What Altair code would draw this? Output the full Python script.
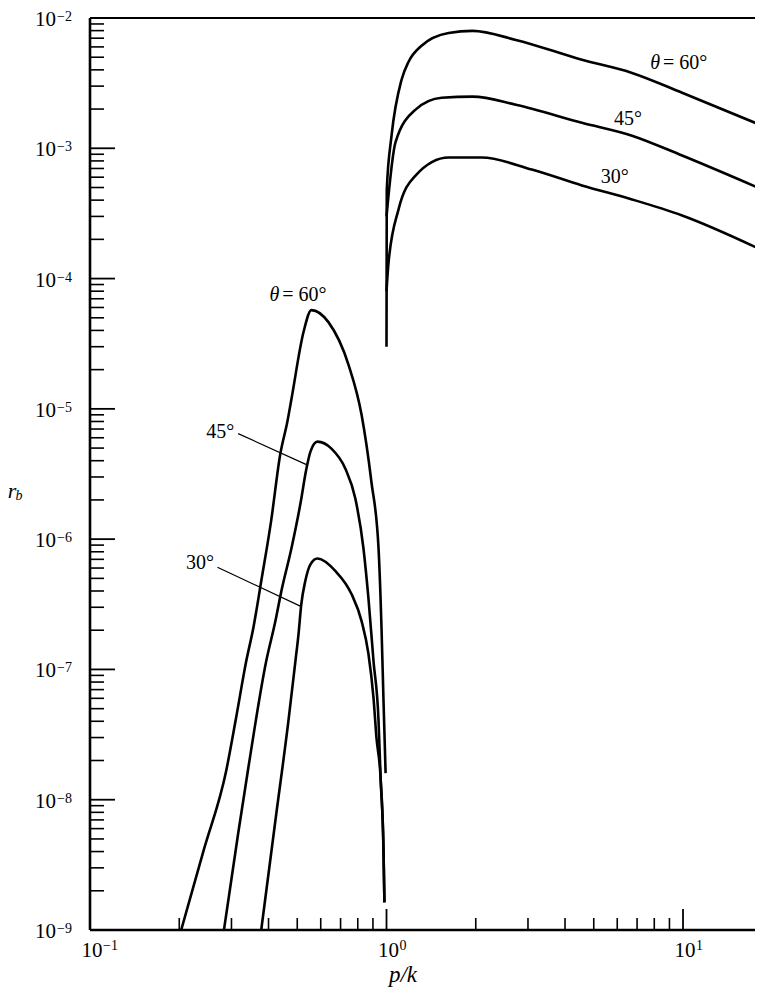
import altair as alt
import pandas as pd

# ---------------- curve data (p/k, r_b) ----------------
p60_lo = [0.203, 0.2417, 0.288, 0.311, 0.3365, 0.3555, 0.378, 0.408, 0.438, 0.463, 0.478, 0.525, 0.558,
          0.637, 0.745, 0.824, 0.889, 0.940, 0.962, 0.977, 0.993]
r60_lo = [1e-9, 4.08e-9, 1.67e-8, 4.26e-8, 1.16e-7, 2.08e-7, 4.75e-7, 1.37e-6, 4.46e-6, 7.96e-6, 1.19e-5, 3.89e-5, 5.73e-5,
          4.63e-5, 2.17e-5, 9.0e-6, 2.77e-6, 8.5e-7, 2.08e-7, 5.74e-8, 1.6e-8]

p45_lo = [0.283, 0.316, 0.342, 0.393, 0.422, 0.442, 0.478, 0.512, 0.537, 0.554, 0.585,
          0.652, 0.726, 0.785, 0.836, 0.869, 0.904, 0.940, 0.955, 0.977, 0.984]
r45_lo = [1e-9, 5.51e-9, 1.76e-8, 1.16e-7, 2.35e-7, 3.99e-7, 8.51e-7, 1.85e-6, 3.48e-6, 4.7e-6, 5.6e-6,
          4.95e-6, 3.48e-6, 2.05e-6, 8.51e-7, 3.52e-7, 1.16e-7, 4.04e-8, 1.48e-8, 4.08e-9, 1.63e-9]

p30_lo = [0.378, 0.422, 0.467, 0.493, 0.505, 0.516, 0.532, 0.554, 0.585, 0.673, 0.762,
          0.824, 0.869, 0.904, 0.925, 0.955, 0.977, 0.984]
r30_lo = [1e-9, 6.93e-9, 4.04e-8, 1.16e-7, 1.87e-7, 3.17e-7, 4.75e-7, 6.41e-7, 7.1e-7, 5.68e-7, 3.79e-7,
          2.35e-7, 1.32e-7, 6.05e-8, 2.99e-8, 1.48e-8, 4.08e-9, 1.63e-9]

p60_hi = [1.0, 1.002, 1.04, 1.124, 1.186, 1.31, 1.62, 1.95, 2.73, 4.56, 6.73, 9.93, 18.5]
r60_hi = [3.0e-5, 4.8e-4, 1.25e-3, 3.36e-3, 4.6e-3, 6.1e-3, 7.67e-3, 7.96e-3, 6.79e-3,
          4.78e-3, 3.79e-3, 2.67e-3, 1.49e-3]

p45_hi = [1.0, 1.072, 1.253, 1.535, 1.95, 2.73, 4.56, 6.73, 9.93, 18.5]
r45_hi = [3.0e-4, 1.11e-3, 1.98e-3, 2.44e-3, 2.49e-3, 2.16e-3, 1.57e-3, 1.25e-3, 8.8e-4, 4.83e-4]

p30_hi = [1.0, 1.016, 1.098, 1.253, 1.618, 2.094, 3.09, 4.56, 6.73, 9.93, 18.5]
r30_hi = [8.0e-5, 1.33e-4, 3.40e-4, 6.18e-4, 8.49e-4, 8.49e-4, 6.87e-4, 5.19e-4, 4.05e-4,
          3.05e-4, 1.65e-4]

# ---------------- annotations ----------------
ann_text = ["= 60°", "45°", "30°", "= 60°", "45°", "30°"]
ann_p = [8.56, 6.52, 5.89, 0.445, 0.275, 0.235]
ann_r = [4.53e-3, 1.69e-3, 5.97e-4, 7.46e-5, 6.68e-6, 6.53e-7]
ann_align = ["left", "center", "center", "left", "center", "center"]

theta_p = [8.56, 0.445]
theta_r = [4.53e-3, 7.46e-5]

lead_p1 = [0.316, 0.269]
lead_r1 = [6.46e-6, 6.08e-7]
lead_p2 = [0.537, 0.512]
lead_r2 = [3.73e-6, 3.06e-7]

# ---------------- axis ticks / labels ----------------
x_label_vals = [0.1, 1, 10]
x_label_exp = ["−1", "0", "1"]
y_label_vals = [1e-9, 1e-8, 1e-7, 1e-6, 1e-5, 1e-4, 1e-3, 1e-2]
y_label_exp = ["−9", "−8", "−7", "−6", "−5", "−4", "−3", "−2"]
x_major = [1, 10]
x_minor = [0.2, 0.3, 0.4, 0.5, 0.6, 0.7, 0.8, 0.9, 2, 3, 4, 5, 6, 7, 8, 9]
y_major = [1e-8, 1e-7, 1e-6, 1e-5, 1e-4, 1e-3]
y_minor = [m * 10.0 ** e for e in range(-9, -2) for m in range(2, 10)]

FONT = "Liberation Serif"
W, H = 665, 912

rows = []
for name, ps, rs in [("60lo", p60_lo, r60_lo), ("45lo", p45_lo, r45_lo), ("30lo", p30_lo, r30_lo),
                     ("60hi", p60_hi, r60_hi), ("45hi", p45_hi, r45_hi), ("30hi", p30_hi, r30_hi)]:
    for i, (p, r) in enumerate(zip(ps, rs)):
        rows.append({"series": name, "i": i, "p": p, "r": r})
curves = pd.DataFrame(rows)

xscale = alt.Scale(type="log", domain=[0.1, 17.49], nice=False)
yscale = alt.Scale(type="log", domain=[1e-9, 1e-2], nice=False)

X = lambda f: alt.X(f, scale=xscale, axis=None)
Y = lambda f: alt.Y(f, scale=yscale, axis=None)

lines = alt.Chart(curves).mark_line(color="black", strokeWidth=2.6,
                                    interpolate="monotone", clip=True).encode(
    x=X("p:Q"), y=Y("r:Q"), detail="series:N", order="i:Q")

ymaj = alt.Chart(pd.DataFrame({"v": y_major})).mark_rule(color="black", strokeWidth=1.8).encode(
    y=Y("v:Q"), x=alt.value(0), x2=alt.value(25))
ymin = alt.Chart(pd.DataFrame({"v": y_minor})).mark_rule(color="black", strokeWidth=1.6).encode(
    y=Y("v:Q"), x=alt.value(0), x2=alt.value(14))
xmaj = alt.Chart(pd.DataFrame({"v": x_major})).mark_rule(color="black", strokeWidth=1.8).encode(
    x=X("v:Q"), y=alt.value(H), y2=alt.value(H - 21))
xmin = alt.Chart(pd.DataFrame({"v": x_minor})).mark_rule(color="black", strokeWidth=1.6).encode(
    x=X("v:Q"), y=alt.value(H), y2=alt.value(H - 12))

frame = alt.Chart(pd.DataFrame({"a": [0]}))
top = frame.mark_rule(color="black", strokeWidth=2.2).encode(
    x=alt.value(0), x2=alt.value(W), y=alt.value(0))
left = frame.mark_rule(color="black", strokeWidth=2.6).encode(
    x=alt.value(0), y=alt.value(0), y2=alt.value(H))
bottom = frame.mark_rule(color="black", strokeWidth=2.6).encode(
    x=alt.value(0), x2=alt.value(W), y=alt.value(H))

ylab_df = pd.DataFrame({"v": y_label_vals, "e": y_label_exp, "b": ["10"] * len(y_label_vals)})
ybase = alt.Chart(ylab_df).mark_text(
    font=FONT, fontSize=21, color="black", align="right", baseline="middle", dy=2).encode(
    y=Y("v:Q"), x=alt.value(-34), text="b:N")
yexp = alt.Chart(ylab_df).mark_text(
    font=FONT, fontSize=14, color="black", align="left", baseline="middle", dy=-1).encode(
    y=Y("v:Q"), x=alt.value(-33), text="e:N")

xlab_df = pd.DataFrame({"v": x_label_vals, "e": x_label_exp, "b": ["10"] * len(x_label_vals)})
xbase = alt.Chart(xlab_df).mark_text(
    font=FONT, fontSize=21, color="black", align="center", baseline="middle", dx=2).encode(
    x=X("v:Q"), y=alt.value(H + 21), text="b:N")
xexp = alt.Chart(xlab_df).mark_text(
    font=FONT, fontSize=14, color="black", align="left", baseline="middle", dx=13).encode(
    x=X("v:Q"), y=alt.value(H + 16), text="e:N")

ann_df = pd.DataFrame({"t": ann_text, "p": ann_p, "r": ann_r, "al": ann_align})
ann_left = alt.Chart(ann_df[ann_df.al == "left"]).mark_text(
    font=FONT, fontSize=20, color="black", align="left", baseline="middle").encode(
    x=X("p:Q"), y=Y("r:Q"), text="t:N")
ann_center = alt.Chart(ann_df[ann_df.al == "center"]).mark_text(
    font=FONT, fontSize=20, color="black", align="center", baseline="middle").encode(
    x=X("p:Q"), y=Y("r:Q"), text="t:N")
theta = alt.Chart(pd.DataFrame({"p": theta_p, "r": theta_r, "t": ["θ", "θ"]})).mark_text(
    font=FONT, fontSize=20, fontStyle="italic", color="black", align="right",
    baseline="middle", dx=-3).encode(x=X("p:Q"), y=Y("r:Q"), text="t:N")

leaders = alt.Chart(pd.DataFrame({"p1": lead_p1, "r1": lead_r1, "p2": lead_p2, "r2": lead_r2})).mark_rule(
    color="black", strokeWidth=1.2).encode(
    x=X("p1:Q"), y=Y("r1:Q"), x2="p2:Q", y2="r2:Q")

xtitle = alt.Chart(pd.DataFrame({"t": ["p/k"]})).mark_text(
    font=FONT, fontSize=23, fontStyle="italic", color="black", align="center",
    baseline="alphabetic").encode(x=alt.value(313), y=alt.value(964), text="t:N")
ytitle_r = alt.Chart(pd.DataFrame({"t": ["r"]})).mark_text(
    font=FONT, fontSize=22, fontStyle="italic", color="black", align="center",
    baseline="middle").encode(x=alt.value(-78), y=alt.value(473), text="t:N")
ytitle_b = alt.Chart(pd.DataFrame({"t": ["b"]})).mark_text(
    font=FONT, fontSize=14, fontStyle="italic", color="black", align="center",
    baseline="middle").encode(x=alt.value(-71), y=alt.value(478), text="t:N")

chart = alt.layer(
    lines, ymaj, ymin, xmaj, xmin, top, left, bottom, ybase, yexp, xbase, xexp,
    leaders, ann_left, ann_center, theta, xtitle, ytitle_r, ytitle_b
).properties(
    width=W, height=H, autosize="none",
    padding={"left": 82, "top": 10, "right": 0, "bottom": 58},
    background="white",
).configure_view(stroke=None)

chart.save("out.html", embed_options={"renderer": "svg", "actions": False})
